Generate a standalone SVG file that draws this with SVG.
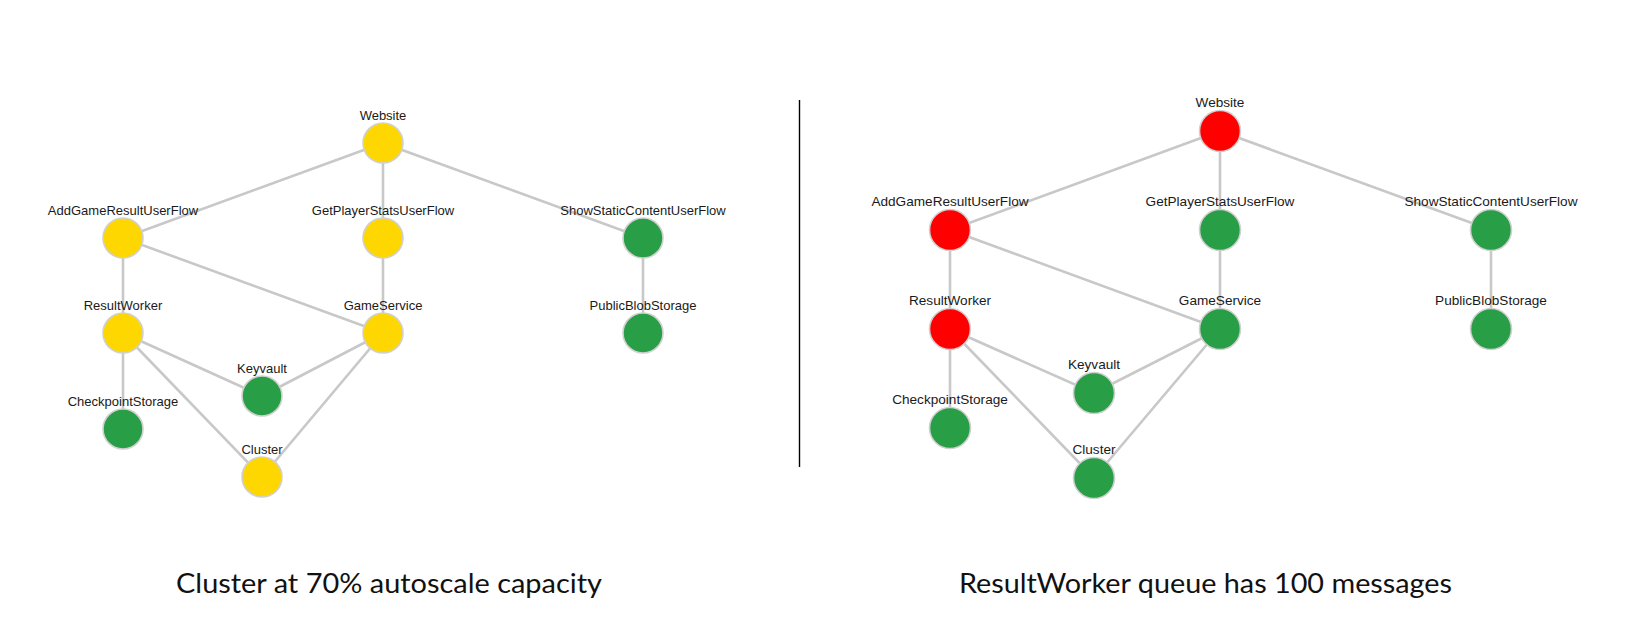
<svg xmlns="http://www.w3.org/2000/svg" width="1626" height="643" viewBox="0 0 1626 643">
<style>
.e{stroke:#c8c8c8;stroke-width:2.6;fill:none}
.n{stroke:#d0d0d0;stroke-width:1.6}
.y{fill:#ffd700}
.g{fill:#289e46}
.r{fill:#ff0000}
.l{font-family:"Liberation Sans",Arial,sans-serif;font-size:13px;fill:#1a1a1a;text-anchor:middle}
.l2{font-family:"Liberation Sans",Arial,sans-serif;font-size:13.6px;fill:#1a1a1a;text-anchor:middle}
.cap{font-family:Lato,"Open Sans",sans-serif;font-size:26px;fill:#111;text-anchor:middle}
</style>
<rect width="1626" height="643" fill="#fff"/>
<g id="connectors-left">
<line class="e" x1="383" y1="143" x2="123" y2="238"/>
<line class="e" x1="383" y1="143" x2="383" y2="238"/>
<line class="e" x1="383" y1="143" x2="643" y2="238"/>
<line class="e" x1="123" y1="238" x2="123" y2="333"/>
<line class="e" x1="123" y1="238" x2="383" y2="333"/>
<line class="e" x1="383" y1="238" x2="383" y2="333"/>
<line class="e" x1="643" y1="238" x2="643" y2="333"/>
<line class="e" x1="123" y1="333" x2="262" y2="396"/>
<line class="e" x1="123" y1="333" x2="123" y2="429"/>
<line class="e" x1="123" y1="333" x2="262" y2="477"/>
<line class="e" x1="383" y1="333" x2="262" y2="396"/>
<line class="e" x1="383" y1="333" x2="262" y2="477"/>
</g>
<g id="connectors-right">
<line class="e" x1="1220" y1="131" x2="950" y2="230"/>
<line class="e" x1="1220" y1="131" x2="1220" y2="230"/>
<line class="e" x1="1220" y1="131" x2="1491" y2="230"/>
<line class="e" x1="950" y1="230" x2="950" y2="329"/>
<line class="e" x1="950" y1="230" x2="1220" y2="329"/>
<line class="e" x1="1220" y1="230" x2="1220" y2="329"/>
<line class="e" x1="1491" y1="230" x2="1491" y2="329"/>
<line class="e" x1="950" y1="329" x2="1094" y2="393"/>
<line class="e" x1="950" y1="329" x2="950" y2="428"/>
<line class="e" x1="950" y1="329" x2="1094" y2="478"/>
<line class="e" x1="1220" y1="329" x2="1094" y2="393"/>
<line class="e" x1="1220" y1="329" x2="1094" y2="478"/>
</g>
<g id="L-Website"><circle class="n y" cx="383" cy="143" r="20"/><text class="l" x="383" y="119.5">Website</text></g>
<g id="L-AddGameResultUserFlow"><circle class="n y" cx="123" cy="238" r="20"/><text class="l" x="123" y="214.5">AddGameResultUserFlow</text></g>
<g id="L-GetPlayerStatsUserFlow"><circle class="n y" cx="383" cy="238" r="20"/><text class="l" x="383" y="214.5">GetPlayerStatsUserFlow</text></g>
<g id="L-ShowStaticContentUserFlow"><circle class="n g" cx="643" cy="238" r="20"/><text class="l" x="643" y="214.5">ShowStaticContentUserFlow</text></g>
<g id="L-ResultWorker"><circle class="n y" cx="123" cy="333" r="20"/><text class="l" x="123" y="309.5">ResultWorker</text></g>
<g id="L-GameService"><circle class="n y" cx="383" cy="333" r="20"/><text class="l" x="383" y="309.5">GameService</text></g>
<g id="L-PublicBlobStorage"><circle class="n g" cx="643" cy="333" r="20"/><text class="l" x="643" y="309.5">PublicBlobStorage</text></g>
<g id="L-Keyvault"><circle class="n g" cx="262" cy="396" r="20"/><text class="l" x="262" y="372.5">Keyvault</text></g>
<g id="L-CheckpointStorage"><circle class="n g" cx="123" cy="429" r="20"/><text class="l" x="123" y="405.5">CheckpointStorage</text></g>
<g id="L-Cluster"><circle class="n y" cx="262" cy="477" r="20"/><text class="l" x="262" y="453.5">Cluster</text></g>

<g id="R-Website"><circle class="n r" cx="1220" cy="131" r="20.5"/><text class="l2" x="1220" y="107">Website</text></g>
<g id="R-AddGameResultUserFlow"><circle class="n r" cx="950" cy="230" r="20.5"/><text class="l2" x="950" y="206">AddGameResultUserFlow</text></g>
<g id="R-GetPlayerStatsUserFlow"><circle class="n g" cx="1220" cy="230" r="20.5"/><text class="l2" x="1220" y="206">GetPlayerStatsUserFlow</text></g>
<g id="R-ShowStaticContentUserFlow"><circle class="n g" cx="1491" cy="230" r="20.5"/><text class="l2" x="1491" y="206">ShowStaticContentUserFlow</text></g>
<g id="R-ResultWorker"><circle class="n r" cx="950" cy="329" r="20.5"/><text class="l2" x="950" y="305">ResultWorker</text></g>
<g id="R-GameService"><circle class="n g" cx="1220" cy="329" r="20.5"/><text class="l2" x="1220" y="305">GameService</text></g>
<g id="R-PublicBlobStorage"><circle class="n g" cx="1491" cy="329" r="20.5"/><text class="l2" x="1491" y="305">PublicBlobStorage</text></g>
<g id="R-Keyvault"><circle class="n g" cx="1094" cy="393" r="20.5"/><text class="l2" x="1094" y="369">Keyvault</text></g>
<g id="R-CheckpointStorage"><circle class="n g" cx="950" cy="428" r="20.5"/><text class="l2" x="950" y="404">CheckpointStorage</text></g>
<g id="R-Cluster"><circle class="n g" cx="1094" cy="478" r="20.5"/><text class="l2" x="1094" y="454">Cluster</text></g>

<line id="separator" x1="799.5" y1="100" x2="799.5" y2="467" stroke="#000" stroke-width="1.4"/>
<text class="cap" x="389" y="592.5" textLength="426" lengthAdjust="spacingAndGlyphs">Cluster at 70% autoscale capacity</text>
<text class="cap" x="1205.5" y="592.5" textLength="493" lengthAdjust="spacingAndGlyphs">ResultWorker queue has 100 messages</text>
</svg>
